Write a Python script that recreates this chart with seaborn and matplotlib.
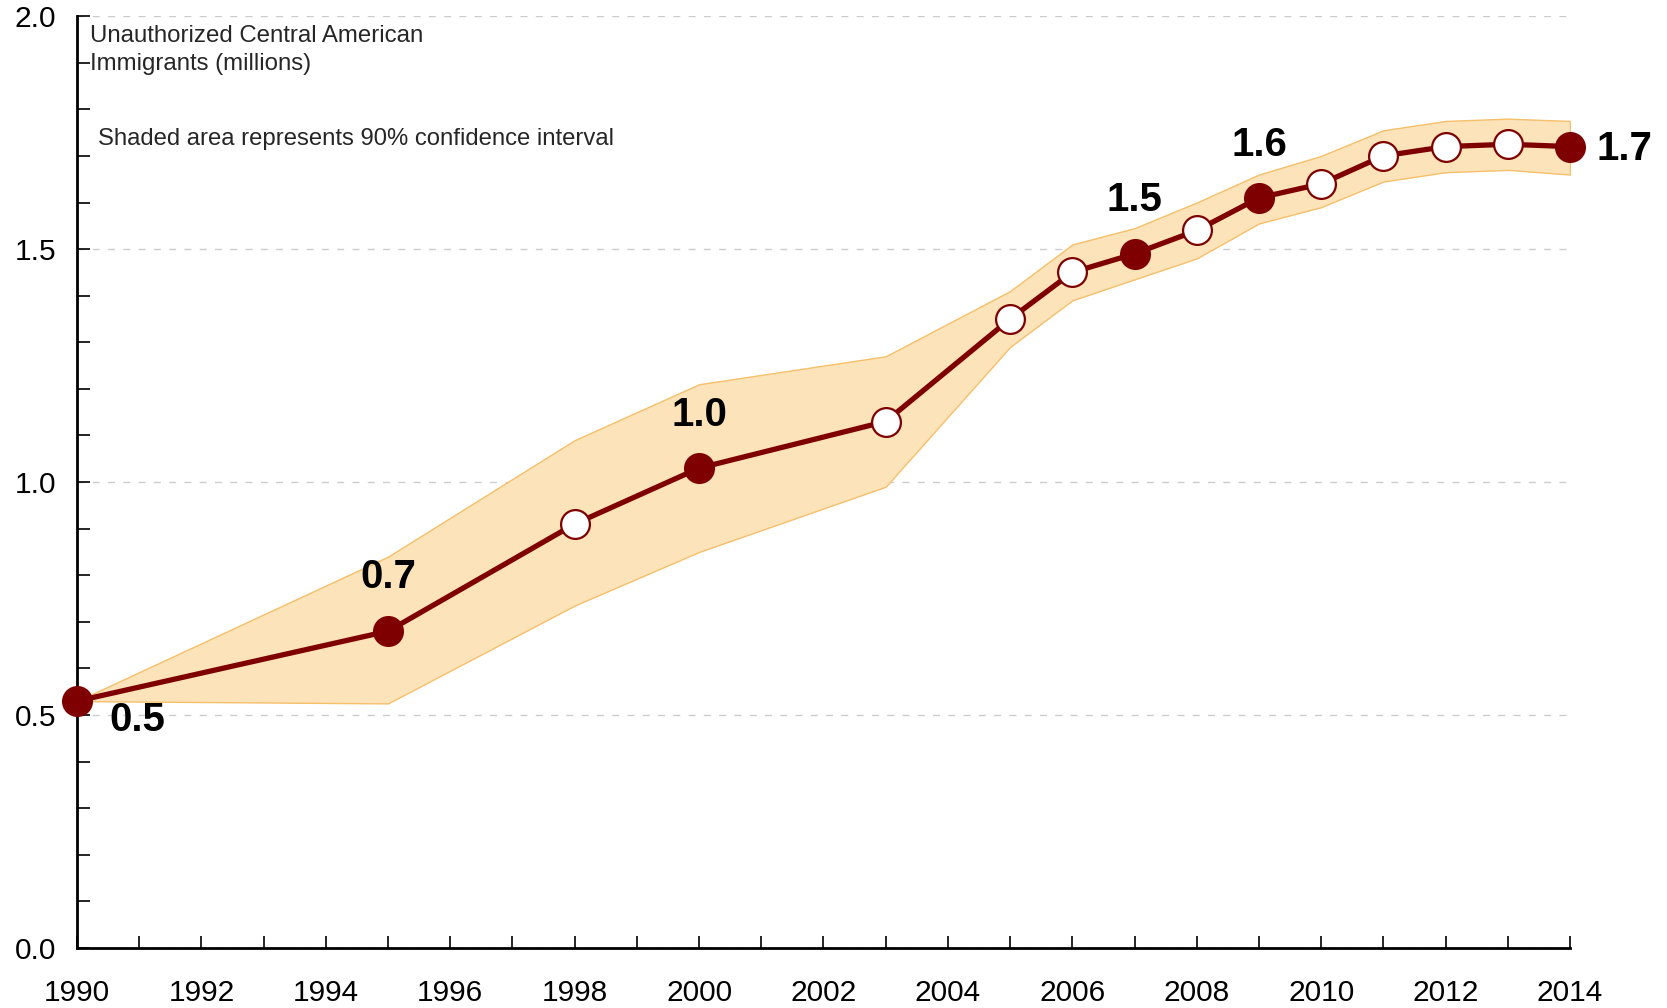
import numpy as np
import pandas as pd
import matplotlib
matplotlib.use("Agg")
import matplotlib.pyplot as plt
import seaborn as sns

# values (millions)
years = [1990, 1995, 1998, 2000, 2003, 2005, 2006, 2007, 2008, 2009, 2010, 2011, 2012, 2013, 2014]
estimate = [0.53, 0.68, 0.91, 1.03, 1.13, 1.35, 1.45, 1.49, 1.54, 1.61, 1.64, 1.70, 1.72, 1.725, 1.72]
upper = [0.53, 0.84, 1.09, 1.21, 1.27, 1.41, 1.51, 1.545, 1.60, 1.66, 1.70, 1.755, 1.775, 1.78, 1.775]
lower = [0.53, 0.525, 0.735, 0.85, 0.99, 1.29, 1.39, 1.435, 1.48, 1.555, 1.59, 1.645, 1.665, 1.67, 1.66]
labeled_years = [1990, 1995, 2000, 2007, 2009, 2014]
labels = ["0.5", "0.7", "1.0", "1.5", "1.6", "1.7"]

df = pd.DataFrame({"year": years, "est": estimate, "lo": lower, "hi": upper})
df["filled"] = df["year"].isin(labeled_years)

sns.set_style("white", {"xtick.bottom": True, "ytick.left": True})
plt.rcParams["font.family"] = ["Liberation Sans", "DejaVu Sans"]

line_col = "#7f0000"
fig = plt.figure(figsize=(16.67, 10.08), dpi=100)
ax = fig.add_axes([0.0462, 0.0595, 0.8956, 0.9245])

ax.fill_between(df["year"], df["lo"], df["hi"], facecolor="#fce3b9",
                edgecolor="#f6bf6a", linewidth=1, zorder=1)
sns.lineplot(data=df, x="year", y="est", color=line_col, linewidth=3.8, ax=ax, zorder=3)
sns.scatterplot(data=df[~df["filled"]], x="year", y="est", s=430, color="white",
                edgecolor=line_col, linewidth=1.6, ax=ax, zorder=4, clip_on=False)
sns.scatterplot(data=df[df["filled"]], x="year", y="est", s=500, color=line_col,
                edgecolor=line_col, linewidth=0, ax=ax, zorder=5, clip_on=False)

# bold value labels (offsets in pixels)
offsets = {1990: (60, -19, "center"), 1995: (0, 54, "center"), 2000: (0, 53, "center"),
           2007: (0, 54, "center"), 2009: (0, 53, "center"), 2014: (27, -2, "left")}
for yr, lab in zip(labeled_years, labels):
    val = df.loc[df["year"] == yr, "est"].values[0]
    dx, dy, ha = offsets[yr]
    ax.annotate(lab, (yr, val), xytext=(dx, dy), textcoords="offset pixels",
                ha=ha, va="center", fontsize=29, fontweight="bold", color="black",
                annotation_clip=False)

ax.set_xlim(1990, 2014)
ax.set_ylim(0, 2.0)
ax.set_xticks(range(1990, 2015, 2))
ax.set_xticks(range(1990, 2015, 1), minor=True)
ax.set_yticks([0.0, 0.5, 1.0, 1.5, 2.0])
ax.set_yticklabels(["0.0", "0.5", "1.0", "1.5", "2.0"])
ax.set_yticks(np.arange(0, 2.01, 0.1), minor=True)
ax.tick_params(axis="x", which="both", direction="in", length=9, width=1.2,
               labelsize=21.5, pad=22, colors="black", bottom=True)
ax.tick_params(axis="y", which="both", direction="in", length=9, width=1.2,
               labelsize=21.5, pad=15, colors="black", left=True)
ax.set_xlabel("")
ax.set_ylabel("")

ax.yaxis.grid(True, which="major", linestyle=(0, (5, 6)), color="#cccccc", linewidth=1)
ax.set_axisbelow(True)
for side in ["top", "right"]:
    ax.spines[side].set_visible(False)
for side in ["left", "bottom"]:
    ax.spines[side].set_color("black")
    ax.spines[side].set_linewidth(2)

ax.text(0.009, 0.99, "Unauthorized Central American\nImmigrants (millions)",
        transform=ax.transAxes, ha="left", va="top", fontsize=17.3, linespacing=1.35)
ax.text(0.014, 0.868, "Shaded area represents 90% confidence interval",
        transform=ax.transAxes, ha="left", va="center", fontsize=17.2)

fig.savefig("out.png", dpi=100)
